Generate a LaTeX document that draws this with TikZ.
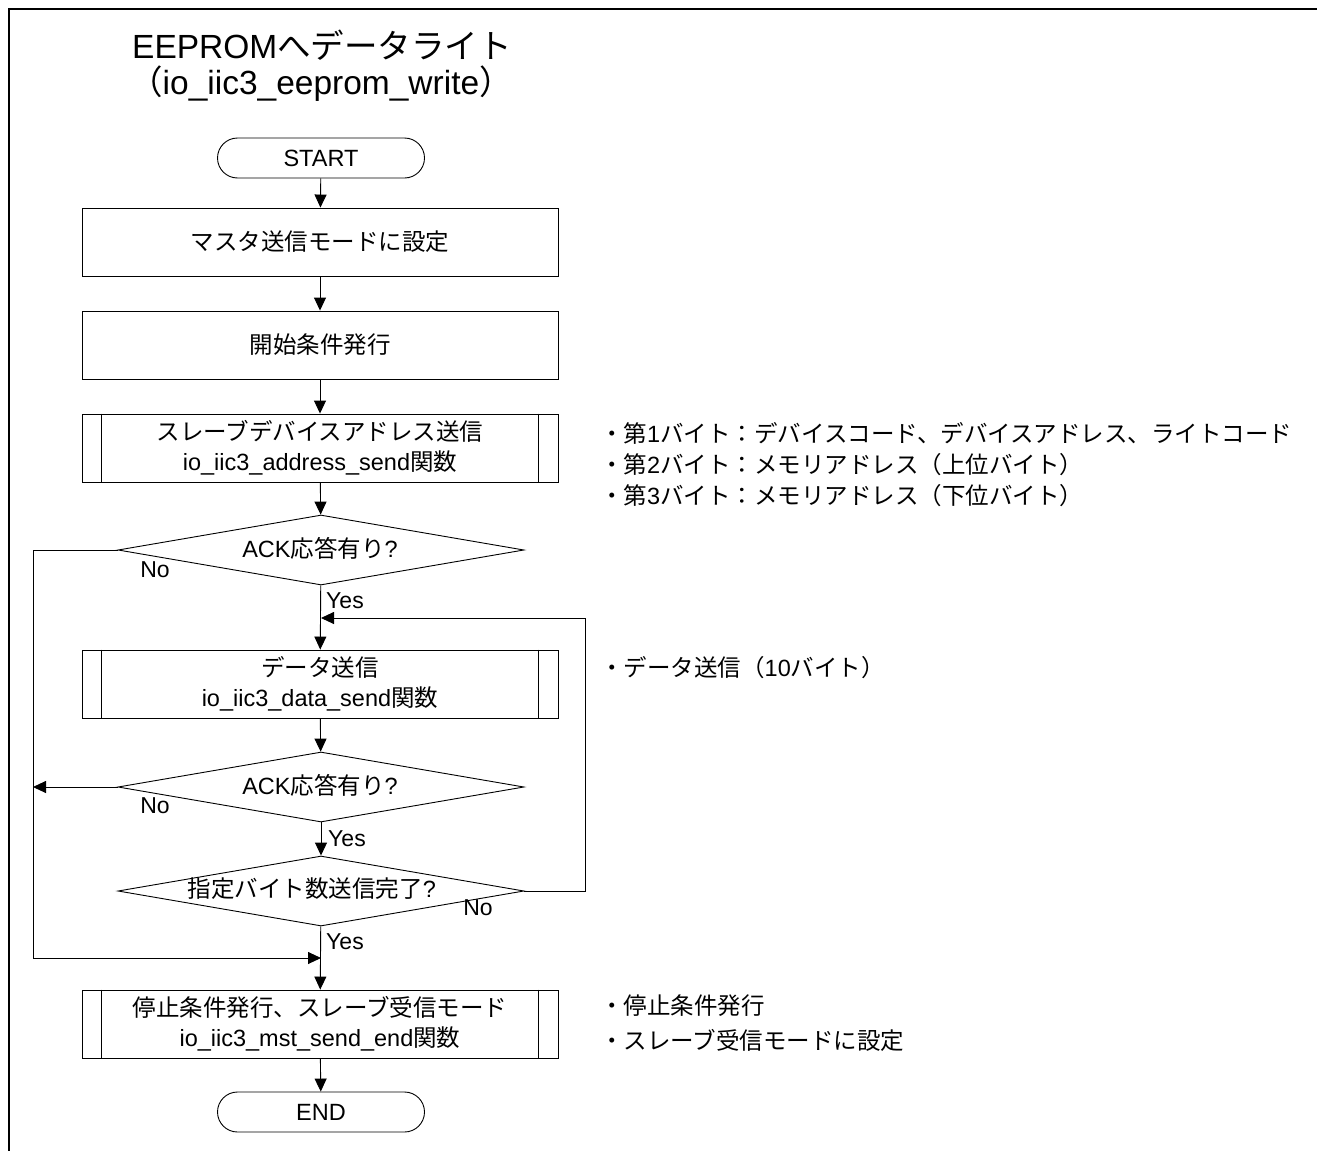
\documentclass[tikz,border=0pt]{standalone}
\usepackage{fontspec}
\setmainfont{Liberation Sans}
\newfontfamily\jp{Noto Sans CJK JP}
\usetikzlibrary{arrows.meta,shapes.geometric}
\newcommand\J[1]{{\jp #1}}
\begin{document}
\begin{tikzpicture}[x=1pt,y=-1pt,
  every node/.style={font=\fontsize{23.5}{30}\selectfont, inner sep=0pt},
  proc/.style={draw, line width=0.9pt, minimum width=476pt, minimum height=68pt, align=center},
  term/.style={draw, line width=0.9pt, rounded corners=20pt, minimum width=207pt, minimum height=40pt},
  dec/.style={draw, line width=0.9pt, shape=diamond, aspect=5.8, minimum width=406pt, minimum height=70pt},
  arr/.style={line width=0.9pt, -{Triangle[length=13pt,width=12pt]}},
  ln/.style={line width=0.9pt},
  lbl/.style={font=\fontsize{23}{26}\selectfont},
  note/.style={anchor=west, font=\fontsize{23.5}{26}\selectfont},
  title/.style={font=\fontsize{33.5}{38}\selectfont}
]
\useasboundingbox (0,0) rectangle (1317,1151);
\draw[line width=2.8pt] (1317,9) -- (9,9) -- (9,1151);

\node[title] (t1) at (322,45) {EEPROM\J{へデータライト}};
\node[title] (t2) at (321,84) {\J{（}io\_iic3\_eeprom\_write\J{）}};

\node[term] (start) at (321,158) {START};
\node[proc] (b1) at (320,242) {\J{マスタ送信モードに設定}};
\node[proc] (b2) at (320,345) {\J{開始条件発行}};
\node[proc] (b3) at (320,448) {\J{スレーブデバイスアドレス送信}\\io\_iic3\_address\_send\J{関数}};
\node[dec] (d1) at (321,550) {};
\node (d1t) at (320,548) {ACK\J{応答有り}?};
\node[proc] (b4) at (320,684) {\J{データ送信}\\io\_iic3\_data\_send\J{関数}};
\node[dec] (d2) at (321,787) {};
\node (d2t) at (320,785) {ACK\J{応答有り}?};
\node[dec] (d3) at (321,891) {};
\node (d3t) at (312,889) {\J{指定バイト数送信完了}?};
\node[proc] (b5) at (320,1024) {\J{停止条件発行、スレーブ受信モード}\\io\_iic3\_mst\_send\_end\J{関数}};
\node[term] (end) at (321,1112) {END};

\foreach \b in {b3,b4,b5}{
  \draw[ln] ([xshift=20pt]\b.north west) -- ([xshift=20pt]\b.south west);
  \draw[ln] ([xshift=-20pt]\b.north east) -- ([xshift=-20pt]\b.south east);
}

\coordinate (lc) at (33,958);
\coordinate (merge) at (321,958);
\coordinate (rc) at (585,618);
\coordinate (loopin) at (321,618);

\draw[arr] (start) -- (b1);
\draw[arr] (b1) -- (b2);
\draw[arr] (b2) -- (b3);
\draw[arr] (b3) -- (d1);
\draw[arr] (d1) -- (b4);
\draw[arr] (b4) -- (d2);
\draw[arr] (d2) -- (d3);
\draw[arr] (d3) -- (b5);
\draw[arr] (b5) -- (end);
\draw[arr] (d1.west) -- (d1.west -| lc) -- (lc) -- (merge);
\draw[arr] (d2.west) -- (d2.west -| lc);
\draw[arr] (d3.east) -- (d3.east -| rc) -- (rc) -- (loopin);

\node[lbl] (n1) at (155,570) {No};
\node[lbl] (y1) at (345,601) {Yes};
\node[lbl] (n2) at (155,806) {No};
\node[lbl] (y2) at (347,839) {Yes};
\node[lbl] (n3) at (478,908) {No};
\node[lbl] (y3) at (345,942) {Yes};

\node[note] (a1) at (600,433) {\J{・第}1\J{バイト：デバイスコード、デバイスアドレス、ライトコード}};
\node[note] (a2) at (600,465) {\J{・第}2\J{バイト：メモリアドレス（上位バイト）}};
\node[note] (a3) at (600,496) {\J{・第}3\J{バイト：メモリアドレス（下位バイト）}};
\node[note] (a4) at (600,668) {\J{・データ送信（}10\J{バイト）}};
\node[note] (a5) at (600,1006) {\J{・停止条件発行}};
\node[note] (a6) at (600,1040) {\J{・スレーブ受信モードに設定}};
\end{tikzpicture}
\end{document}
